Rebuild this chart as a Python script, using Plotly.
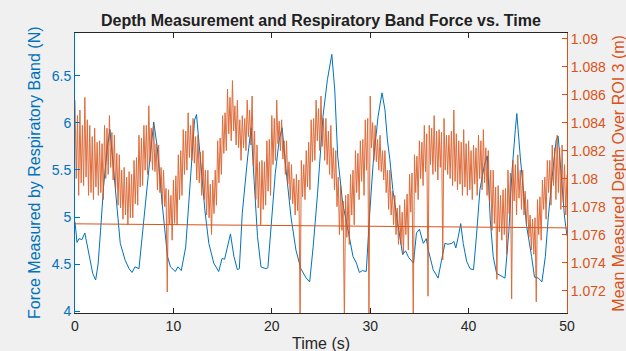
import plotly.graph_objects as go

# ---------------- data ----------------
force_t = [0, 0.2, 0.4, 0.7, 1.0, 1.2, 1.5, 1.8, 2.1, 2.35, 2.6, 2.9, 3.25, 3.55, 3.8, 4.1, 4.6, 5.1, 5.5, 5.8,
           6.1, 6.5, 7.0, 7.5, 8.0, 8.35, 8.85, 9.4, 9.7, 10.0, 10.2, 10.45, 10.8, 11.25, 11.75, 12.15, 12.35,
           12.75, 13.2, 13.6, 14.1, 14.6, 14.95, 15.2, 15.5, 15.8, 16.15, 16.5, 16.7, 17.0, 17.55, 17.9, 18.2,
           18.55, 18.9, 19.4, 19.6, 19.9, 20.35, 20.75, 21.05, 21.45, 21.95, 22.45, 22.95, 23.5, 23.85, 24.2,
           24.65, 25.2, 25.65, 26.1, 26.4, 26.7, 27.2, 27.75, 28.25, 28.6, 28.9, 29.2, 29.6, 29.95, 30.3, 30.8,
           31.2, 31.5, 31.75, 32.0, 32.3, 32.8, 33.3, 33.6, 33.9, 34.4, 34.7, 35.0, 35.4, 35.7, 35.9, 36.4,
           36.9, 37.25, 37.6, 37.9, 38.3, 38.5, 38.7, 38.95, 39.2, 39.45, 39.8, 40.15, 40.5, 40.8, 41.15, 41.6,
           41.9, 42.2, 42.5, 42.85, 43.2, 43.7, 44.1, 44.4, 44.75, 44.9, 45.25, 45.6, 45.9, 46.4, 46.7, 47.1,
           47.45, 47.8, 48.1, 48.5, 48.9, 49.1, 49.4, 49.75, 50.0]
force_n = [4.95, 4.73, 4.77, 4.76, 4.83, 4.72, 4.53, 4.40, 4.33, 4.50, 4.86, 5.32, 5.71, 5.93, 5.65, 5.29, 4.72,
           4.54, 4.45, 4.41, 4.47, 4.45, 4.94, 5.50, 6.01, 5.75, 5.15, 4.58, 4.47, 4.44, 4.42, 4.47, 4.43, 4.68,
           5.46, 6.03, 6.09, 5.64, 5.07, 4.72, 4.51, 4.42, 4.56, 4.55, 4.68, 4.82, 4.58, 4.44, 4.45, 5.04, 5.64,
           5.95, 5.39, 4.79, 4.47, 4.45, 4.46, 4.86, 5.46, 5.82, 5.95, 5.50, 5.00, 4.65, 4.45, 4.35, 4.31, 4.68,
           5.25, 6.07, 6.46, 6.73, 6.35, 5.64, 5.15, 4.86, 4.58, 4.51, 4.41, 4.43, 4.42, 5.04, 5.57, 6.07, 6.32,
           6.14, 5.82, 5.61, 5.29, 4.93, 4.60, 4.64, 4.57, 4.51, 4.83, 4.87, 4.72, 4.77, 4.65, 4.44, 4.35, 4.54,
           4.72, 4.71, 4.72, 4.74, 4.67, 4.79, 4.93, 4.72, 4.53, 4.45, 4.44, 4.80, 5.29, 5.55, 5.65, 4.97, 4.58,
           4.40, 4.38, 4.35, 4.86, 5.47, 5.93, 6.10, 5.64, 5.22, 4.90, 4.58, 4.36, 4.35, 4.31, 4.58, 5.00, 5.43,
           5.82, 5.86, 5.46, 5.00, 4.80]

# depth signal, read as four interleaved sample sets (noise peaks and troughs)
# peaks at t = 0, 0.5, ..., 50
depth_hi = [1.0856, 1.0849, 1.0858, 1.0838, 1.0836, 1.0827, 1.0838, 1.0845, 1.0831, 1.0817,
            1.0808, 1.0805, 1.0813, 1.0831, 1.0838, 1.0852, 1.0838, 1.0824, 1.0806, 1.0792,
            1.0799, 1.0817, 1.0835, 1.0847, 1.0843, 1.0831, 1.0820, 1.0806, 1.0799, 1.0827,
            1.0845, 1.0864, 1.0870, 1.0856, 1.0845, 1.0856, 1.0859, 1.0824, 1.0813, 1.0827,
            1.0845, 1.0856, 1.0842, 1.0827, 1.0810, 1.0803, 1.0813, 1.0820, 1.0842, 1.0856,
            1.0859, 1.0843, 1.0838, 1.0820, 1.0795, 1.0788, 1.0803, 1.0820, 1.0827, 1.0842,
            1.0859, 1.0838, 1.0831, 1.0820, 1.0806, 1.0788, 1.0781, 1.0785, 1.0803, 1.0817,
            1.0827, 1.0838, 1.0838, 1.0845, 1.0835, 1.0843, 1.0831, 1.0849, 1.0827, 1.0835,
            1.0827, 1.0824, 1.0831, 1.0835, 1.0820, 1.0806, 1.0795, 1.0792, 1.0806, 1.0813,
            1.0817, 1.0806, 1.0785, 1.0771, 1.0785, 1.0799, 1.0813, 1.0824, 1.0831, 1.0824,
            1.0803]
# troughs at t = 0.125, 0.625, ..., 49.625
depth_lo2 = [1.0800, 1.0797, 1.0801, 1.0790, 1.0794, 1.0790, 1.0800, 1.0808, 1.0792, 1.0779,
             1.0774, 1.0772, 1.0782, 1.0794, 1.0806, 1.0812, 1.0805, 1.0790, 1.0780, 1.0767,
             1.0768, 1.0785, 1.0803, 1.0815, 1.0811, 1.0797, 1.0785, 1.0772, 1.0775, 1.0797,
             1.0818, 1.0832, 1.0834, 1.0822, 1.0822, 1.0830, 1.0809, 1.0779, 1.0778, 1.0791,
             1.0810, 1.0825, 1.0814, 1.0796, 1.0782, 1.0777, 1.0787, 1.0794, 1.0812, 1.0827,
             1.0823, 1.0810, 1.0800, 1.0780, 1.0763, 1.0758, 1.0774, 1.0790, 1.0798, 1.0806,
             1.0822, 1.0812, 1.0805, 1.0790, 1.0774, 1.0760, 1.0753, 1.0760, 1.0776, 1.0790,
             1.0800, 1.0805, 1.0810, 1.0805, 1.0808, 1.0806, 1.0800, 1.0798, 1.0796, 1.0794,
             1.0792, 1.0796, 1.0800, 1.0797, 1.0783, 1.0768, 1.0762, 1.0760, 1.0775, 1.0784,
             1.0786, 1.0774, 1.0758, 1.0746, 1.0760, 1.0778, 1.0790, 1.0795, 1.0790, 1.0783]
# peaks at t = 0.25, 0.75, ..., 49.75
depth_hi2 = [1.0845, 1.0838, 1.0842, 1.0830, 1.0826, 1.0825, 1.0836, 1.0833, 1.0818, 1.0806,
             1.0801, 1.0803, 1.0815, 1.0829, 1.0838, 1.0836, 1.0825, 1.0808, 1.0793, 1.0788,
             1.0802, 1.0820, 1.0834, 1.0838, 1.0830, 1.0819, 1.0806, 1.0796, 1.0806, 1.0829,
             1.0847, 1.0858, 1.0852, 1.0842, 1.0843, 1.0849, 1.0834, 1.0812, 1.0812, 1.0828,
             1.0843, 1.0841, 1.0827, 1.0812, 1.0800, 1.0799, 1.0810, 1.0826, 1.0843, 1.0850,
             1.0843, 1.0834, 1.0822, 1.0801, 1.0784, 1.0789, 1.0806, 1.0818, 1.0828, 1.0843,
             1.0840, 1.0828, 1.0820, 1.0806, 1.0791, 1.0779, 1.0776, 1.0789, 1.0804, 1.0816,
             1.0826, 1.0832, 1.0836, 1.0834, 1.0833, 1.0831, 1.0834, 1.0832, 1.0826, 1.0825,
             1.0820, 1.0822, 1.0827, 1.0822, 1.0806, 1.0794, 1.0788, 1.0793, 1.0804, 1.0810,
             1.0806, 1.0791, 1.0774, 1.0772, 1.0787, 1.0801, 1.0813, 1.0822, 1.0822, 1.0810]
# troughs at t = 0.375, 0.875, ..., 49.875 (includes the downward outliers)
depth_lo = [1.0788, 1.0795, 1.0788, 1.0785, 1.0788, 1.0785, 1.0803, 1.0799, 1.0781, 1.0771,
            1.0767, 1.0772, 1.0781, 1.0795, 1.0803, 1.0806, 1.0792, 1.0781, 1.0719, 1.0756,
            1.0767, 1.0788, 1.0806, 1.0813, 1.0799, 1.0788, 1.0774, 1.0760, 1.0781, 1.0803,
            1.0820, 1.0827, 1.0824, 1.0813, 1.0820, 1.0824, 1.0785, 1.0767, 1.0781, 1.0788,
            1.0813, 1.0820, 1.0803, 1.0785, 1.0774, 1.0698, 1.0785, 1.0792, 1.0813, 1.0820,
            1.0813, 1.0803, 1.0792, 1.0760, 1.0698, 1.0753, 1.0767, 1.0785, 1.0788, 1.0698,
            1.0813, 1.0806, 1.0799, 1.0778, 1.0767, 1.0753, 1.0746, 1.0749, 1.0698, 1.0785,
            1.0795, 1.0716, 1.0803, 1.0799, 1.0742, 1.0803, 1.0795, 1.0792, 1.0788, 1.0788,
            1.0785, 1.0788, 1.0792, 1.0788, 1.0763, 1.0728, 1.0756, 1.0746, 1.0714, 1.0774,
            1.0778, 1.0767, 1.0749, 1.0712, 1.0756, 1.0771, 1.0781, 1.0785, 1.0778, 1.0774]

depth_hi_t = [i * 0.5 for i in range(len(depth_hi))]
depth_lo2_t = [0.125 + i * 0.5 for i in range(len(depth_lo2))]
depth_hi2_t = [0.25 + i * 0.5 for i in range(len(depth_hi2))]
depth_lo_t = [0.375 + i * 0.5 for i in range(len(depth_lo))]

trend_t = [0, 50]
trend_m = [1.07677, 1.07648]

x_ticks = [0, 10, 20, 30, 40, 50]
left_ticks = [4, 4.5, 5, 5.5, 6, 6.5]
left_labels = ["4", "4.5", "5", "5.5", "6", "6.5"]
right_ticks = [1.072, 1.074, 1.076, 1.078, 1.08, 1.082, 1.084, 1.086, 1.088, 1.09]
right_labels = ["1.072", "1.074", "1.076", "1.078", "1.08", "1.082", "1.084", "1.086", "1.088", "1.09"]

BLUE = "#0072BD"
ORANGE = "#D95319"
DARK = "#262626"
FONT = "Liberation Sans, Arial, sans-serif"

# merge depth samples in time order
pairs = sorted(zip(depth_hi_t + depth_lo2_t + depth_hi2_t + depth_lo_t,
                   depth_hi + depth_lo2 + depth_hi2 + depth_lo))
depth_t = [p[0] for p in pairs]
depth_m = [p[1] for p in pairs]

fig = go.Figure()
fig.add_trace(go.Scatter(x=force_t, y=force_n, mode="lines",
                         line=dict(color=BLUE, width=1), yaxis="y", showlegend=False))
fig.add_trace(go.Scatter(x=depth_t, y=depth_m, mode="lines",
                         line=dict(color=ORANGE, width=1), opacity=0.85, yaxis="y2", showlegend=False))
fig.add_trace(go.Scatter(x=trend_t, y=trend_m, mode="lines",
                         line=dict(color=ORANGE, width=1), yaxis="y2", showlegend=False))

fig.update_layout(
    width=626, height=351,
    margin=dict(l=75, r=59, t=33, b=38),
    paper_bgcolor="#f0f0f0", plot_bgcolor="white",
    font=dict(family=FONT, size=14, color=DARK),
    xaxis=dict(range=[0, 50], tickvals=x_ticks, ticks="inside", ticklen=5, tickcolor=DARK,
               showline=True, linecolor=DARK, linewidth=1, mirror="ticks",
               showgrid=False, zeroline=False, tickfont=dict(size=14, color=DARK)),
    yaxis=dict(range=[3.979, 6.957], tickvals=left_ticks, ticktext=left_labels,
               ticks="inside", ticklen=5, tickcolor=BLUE, showline=True, linecolor=BLUE,
               linewidth=1, showgrid=False, zeroline=False, tickfont=dict(size=14, color=BLUE)),
    yaxis2=dict(range=[1.0704, 1.0904], tickvals=right_ticks, ticktext=right_labels,
                overlaying="y", side="right", ticks="inside", ticklen=5, tickcolor=ORANGE,
                showline=True, linecolor=ORANGE, linewidth=1, showgrid=False, zeroline=False,
                tickfont=dict(size=14, color=ORANGE)),
    annotations=[
        dict(text="<b>Depth Measurement and Respiratory Band Force vs. Time</b>", x=0.5, y=1.046,
             xref="paper", yref="paper", showarrow=False, xanchor="center", yanchor="middle",
             font=dict(size=16, color="#212121")),
        dict(text="Time (s)", x=0.5, y=-0.11, xref="paper", yref="paper", showarrow=False,
             xanchor="center", yanchor="middle", font=dict(size=16, color=DARK)),
        dict(text="Force Measured by Respiratory Band (N)", x=-0.0833, y=0.5, xref="paper",
             yref="paper", showarrow=False, textangle=-90, xanchor="center", yanchor="middle",
             font=dict(size=16, color=BLUE)),
        dict(text="Mean Measured Depth Over ROI 3 (m)", x=1.103, y=0.5, xref="paper",
             yref="paper", showarrow=False, textangle=-90, xanchor="center", yanchor="middle",
             font=dict(size=16, color=ORANGE)),
    ],
)

fig.write_html("out.html")
